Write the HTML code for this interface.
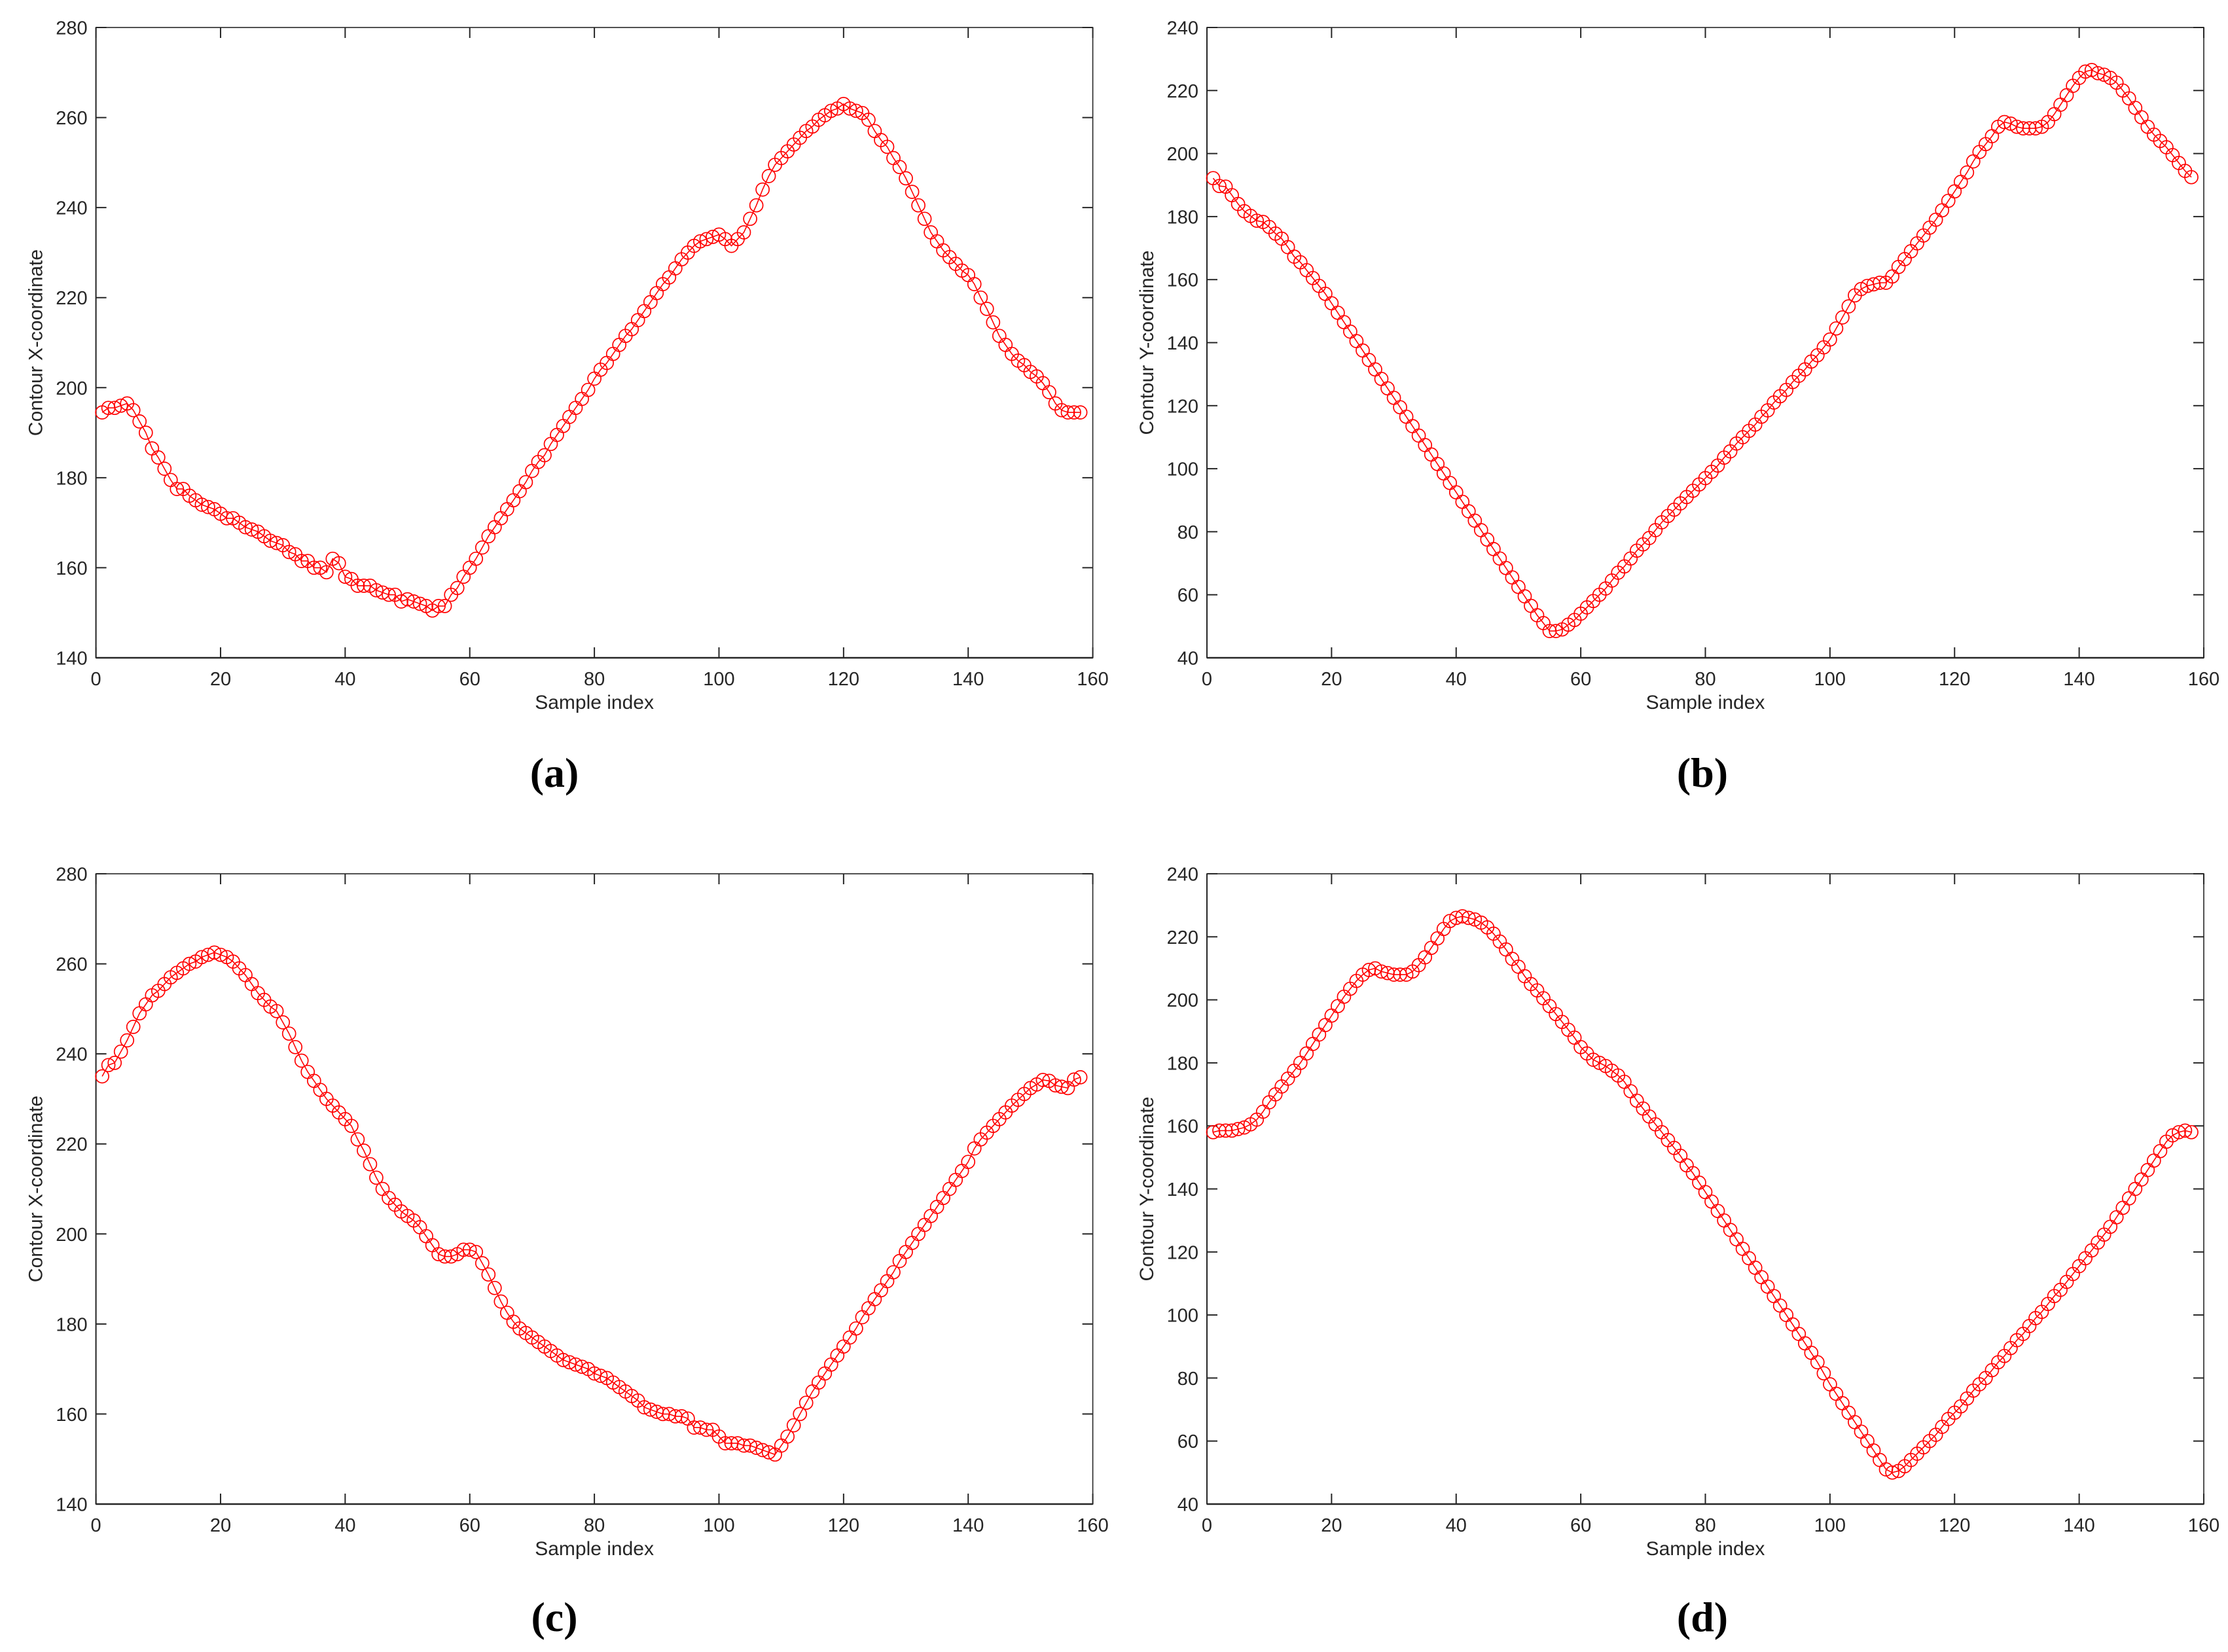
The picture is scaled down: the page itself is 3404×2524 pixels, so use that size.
<!DOCTYPE html>
<html><head><meta charset="utf-8"><style>
html,body{margin:0;padding:0;background:#fff;}
svg{display:block;}
</style></head><body>
<svg id="fig" xmlns="http://www.w3.org/2000/svg" width="3404" height="2524" viewBox="0 0 3404 2524">
<rect width="3404" height="2524" fill="#fff"/>
</svg>
<script>
const xTicks = [0,20,40,60,80,100,120,140,160];
const yTicksX = [140,160,180,200,220,240,260,280];
const yTicksY = [40,60,80,100,120,140,160,180,200,220,240];

const seriesA = [194.5,195.5,195.5,196,196.5,195,192.5,190,186.5,184.5,
182,179.5,177.5,177.5,176,175,174,173.5,173,172,
171,171,170,169,168.5,168,167,166,165.5,165,
163.5,163,161.5,161.5,160,160,159,162,161,158,
157.5,156,156,156,155,154.5,154,154,152.5,153,
152.5,152,151.5,150.5,151.5,151.5,154,155.5,158,160,
162,164.5,167,169,171,173,175,177,179,181.5,
183.5,185,187.5,189.5,191.5,193.5,195.5,197.5,199.5,202,
204,205.5,207.5,209.5,211.5,213,215,217,219,221,
223,224.5,226.5,228.5,230,231.5,232.5,233,233.5,234,
233,231.5,233,234.5,237.5,240.5,244,247,249.5,251,
252.5,254,255.5,257,258,259.5,260.5,261.5,262,263,
262,261.5,261,259.5,257,255,253.5,251,249,246.5,
243.5,240.5,237.5,234.5,232.5,230.5,229,227.5,226,225,
223,220,217.5,214.5,211.5,209.5,207.5,206,205,203.5,
202.5,201,199,196.5,195,194.5,194.5,194.5];

const seriesB = [192.2,189.7,189.5,186.8,184,181.7,180.2,178.7,178.3,176.7,
174.6,173,170.3,167.3,165.5,163,160.5,158,155.5,152.5,
149.5,146.5,143.5,140.5,137.5,134.5,131.5,128.5,125.5,122.5,
119.5,116.5,113.5,110.5,107.5,104.5,101.5,98.5,95.5,92.5,
89.5,86.5,83.5,80.5,77.5,74.5,71.5,68.5,65.5,62.5,
59.5,56.5,53.5,51,48.5,48.5,49,50.5,52,54,
56,58,60,62,64.5,67,69,71.5,74,76,
78,80.5,83,85,87,89,91,93,95,97,
99,101,103.5,105.5,108,110,112,114,116.5,118.5,
121,123,125,127.5,129.5,131.5,134,136,138.5,141,
144.5,148,151.5,155,157,158,158.5,159,159,161,
164,166.5,169,171.5,174,176.5,179,182,185,188,
191,194,197.5,200.5,203,205.5,208.5,210,209.5,208.5,
208,208,208,208.5,210,212.5,215.5,218.5,221.5,224,
226,226.5,225.5,225,224,222.5,220,217.5,214.5,211.5,
208.5,206,204,202,199.5,197,194.5,192.5];

const seriesC = [235,237.5,238,240.5,243,246,249,251,253,254,
255.5,257,258,259,260,260.5,261.5,262,262.5,262,
261.5,260.5,259,257.5,255.5,253.5,252,250.5,249.5,247,
244.5,241.5,238.5,236,234,232,230,228.5,227,225.5,
224,221,218.5,215.5,212.5,210,208,206.5,205,204,
203,201.5,199.5,197.5,195.5,195,195,195.5,196.5,196.5,
196,193.5,191,188,185,182.5,180.5,179,178,177,
176,175,174,173,172,171.5,171,170.5,170,169,
168.5,168,167,166,165,164,163,161.5,161,160.5,
160,160,159.5,159.5,159,157,157,156.5,156.5,155,
153.5,153.5,153.5,153,153,152.5,152,151.5,151,153,
155,157.5,160,162.5,165,167,169,171,173,175,
177,179,181.5,183.5,185.5,187.5,189.5,191.5,194,196,
198,200,202,204,206,208,210,212,214,216,
219,221,222.5,224,225.5,227,228.5,229.8,231.1,232.4,
233.2,234.2,234,233,232.7,232.4,234.3,234.8];

const seriesD = [158,158.5,158.5,158.5,159,159.5,160.5,162,164.5,167.5,
170,172.5,175,177.5,180,183,186,189,192,195,
198,201,203.5,206,208,209.5,210,209,208.5,208,
208,208,209,211,213.5,216.5,219.5,222.5,225,226,
226.5,226,225.5,224.5,223,221,218.5,216,213,210.5,
207.5,205,203,200.5,198,195.5,193,190.5,188,185,
183,181,180,179,177.5,176,174,171,168,165.5,
163,160.5,158,155.5,153,150.5,147.5,145,142,139,
136,133,130,127,124,121,118,115,112,109,
106,103,100,97,94,91,88,85,81.5,78,
75,72,69,66,63,60,57,54,51,50,
50.5,52,54,56,58,60,62,64.5,67,69,
71,73.5,76,78,80,82.5,85,87,89.5,92,
94,96.5,99,101,103.5,106,108,110.5,113,115.5,
118,120.5,123,125.5,128,131,134,137,140,143,
146,149,152,155,157,158,158.5,158];

const NS = 'http://www.w3.org/2000/svg';
const svg = document.getElementById('fig');
function mk(tag, attrs, parent){
  const e = document.createElementNS(NS, tag);
  for (const k in attrs) e.setAttribute(k, attrs[k]);
  (parent||svg).appendChild(e);
  return e;
}
const PW = 1523, PH = 963;
const AX = '#262626';
function panel(id, L, T, data, yTicks, yTitle, label, labelX, labelY){
  const g = mk('g', {});
  
  
  const y0 = yTicks[0], y1 = yTicks[yTicks.length-1];
  const sx = v => L + (v - 0) / 160 * PW;
  const sy = v => T + PH - (v - y0) / (y1 - y0) * PH;
  const frame = mk('rect', {x:L, y:T, width:PW, height:PH, fill:'none', stroke:AX, 'stroke-width':1.6}, g);
  
  
  const xa = mk('line', {x1:L, y1:T+PH, x2:L+PW, y2:T+PH, stroke:AX, 'stroke-width':2.6}, g);
  
  
  const ya = mk('line', {x1:L, y1:T, x2:L, y2:T+PH, stroke:AX, 'stroke-width':2}, g);
  
  
  xTicks.forEach(t => {
    const x = sx(t);
    mk('line', {x1:x, y1:T+PH, x2:x, y2:T+PH-16, stroke:AX, 'stroke-width':2}, g);
    mk('line', {x1:x, y1:T, x2:x, y2:T+16, stroke:AX, 'stroke-width':2}, g);
    const tx = mk('text', {x:x, y:T+PH+42, 'text-anchor':'middle', 'font-family':'Liberation Sans, Arial, sans-serif', 'font-size':29, fill:AX}, g);
    tx.textContent = t;
    
    
  });
  yTicks.forEach(t => {
    const y = sy(t);
    mk('line', {x1:L, y1:y, x2:L+16, y2:y, stroke:AX, 'stroke-width':2}, g);
    mk('line', {x1:L+PW, y1:y, x2:L+PW-16, y2:y, stroke:AX, 'stroke-width':2}, g);
    const ty = mk('text', {x:L-13, y:y+10.5, 'text-anchor':'end', 'font-family':'Liberation Sans, Arial, sans-serif', 'font-size':29, fill:AX}, g);
    ty.textContent = t;
    
    
  });
  const xt = mk('text', {x:L+PW/2, y:T+PH+78, 'text-anchor':'middle', 'font-family':'Liberation Sans, Arial, sans-serif', 'font-size':30, fill:AX}, g);
  xt.textContent = 'Sample index';
  
  
  const cx = L - 82, cy = T + PH/2;
  const yt = mk('text', {x:cx, y:cy, 'text-anchor':'middle', 'font-family':'Liberation Sans, Arial, sans-serif', 'font-size':30, fill:AX, transform:'rotate(-90 '+cx+' '+cy+')'}, g);
  yt.textContent = yTitle;
  
  
  let d = '';
  data.forEach((v,i) => { d += (i ? 'L' : 'M') + sx(i+1).toFixed(1) + ' ' + sy(v).toFixed(1); });
  const ln = mk('path', {d:d, fill:'none', stroke:'#ff0000', 'stroke-width':1.6}, g);
  
  
  data.forEach((v,i) => {
    const c = mk('circle', {cx:sx(i+1).toFixed(1), cy:sy(v).toFixed(1), r:10, fill:'none', stroke:'#ff0000', 'stroke-width':1.7}, g);
    
    
  });
  const lb = mk('text', {x:labelX, y:labelY, 'text-anchor':'middle', 'font-family':'Liberation Serif, serif', 'font-weight':'bold', 'font-size':64, fill:'#000'}, g);
  lb.textContent = label;
  
  
}
panel('a', 146.6, 42, seriesA, yTicksX, 'Contour X-coordinate', '(a)', 847, 1202);
panel('b', 1844, 42, seriesB, yTicksY, 'Contour Y-coordinate', '(b)', 2601, 1202);
panel('c', 146.6, 1335, seriesC, yTicksX, 'Contour X-coordinate', '(c)', 847, 2492);
panel('d', 1844, 1335, seriesD, yTicksY, 'Contour Y-coordinate', '(d)', 2601, 2492);
</script>
</body></html>
